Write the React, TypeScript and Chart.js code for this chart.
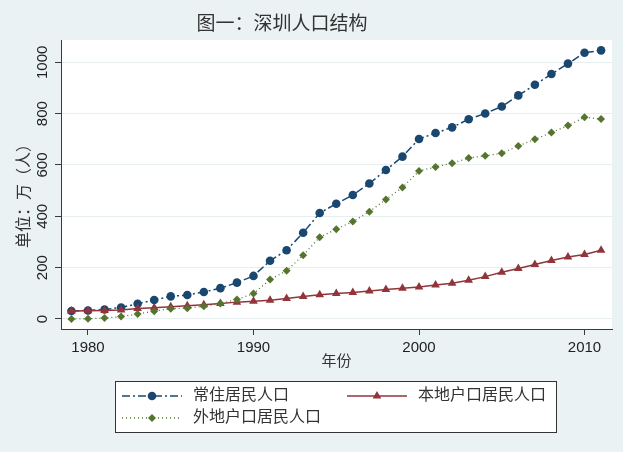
import React, { useEffect, useRef } from "react";
import { Chart, registerables } from "chart.js";

Chart.register(...registerables);

const years = [
  1979, 1980, 1981, 1982, 1983, 1984, 1985, 1986, 1987, 1988, 1989, 1990, 1991,
  1992, 1993, 1994, 1995, 1996, 1997, 1998, 1999, 2000, 2001, 2002, 2003, 2004,
  2005, 2006, 2007, 2008, 2009, 2010, 2011,
];
const residentPop = [
  31.4, 33.3, 36.7, 45.0, 59.5, 74.1, 88.2, 93.6, 105.4, 120.1, 141.6, 167.8,
  226.8, 268.0, 336.0, 412.7, 449.2, 482.9, 527.8, 580.3, 632.6, 701.2, 724.6,
  746.6, 778.3, 800.8, 827.8, 871.1, 912.4, 954.3, 995.0, 1037.2, 1046.7,
];
const localHukouPop = [
  31.3, 32.1, 33.3, 35.5, 40.5, 43.5, 47.9, 51.4, 55.6, 60.1, 65.7, 68.7, 73.2,
  80.2, 87.7, 94.0, 99.2, 103.4, 109.5, 114.6, 119.9, 124.9, 132.0, 139.5,
  150.9, 165.1, 181.9, 196.8, 212.4, 228.1, 241.5, 251.0, 267.9,
];
const nonLocalHukouPop = [
  0.2, 1.2, 3.4, 9.5, 19.0, 30.6, 40.3, 42.2, 49.8, 60.0, 75.9, 99.1, 153.5,
  187.8, 248.3, 318.7, 350.0, 379.5, 418.3, 465.7, 512.7, 576.3, 592.5, 607.2,
  627.3, 635.7, 645.8, 674.3, 700.0, 726.2, 753.6, 786.2, 778.8,
];
const xTickValues = [1980, 1990, 2000, 2010];
const yTickValues = [0, 200, 400, 600, 800, 1000];
const seriesNames = ["常住居民人口", "本地户口居民人口", "外地户口居民人口"];
const chartTitle = "图一：深圳人口结构";
const xAxisTitle = "年份";
const yAxisTitle = "单位：万（人）";

const BLUE = "#1a476f";
const MAROON = "#90353b";
const GREEN = "#55752f";
const BG = "#eaf2f3";
const AXIS = "#3a3a3a";
const FONT = "'Liberation Sans', 'Noto Sans CJK SC', sans-serif";

function drawMarker(ctx: CanvasRenderingContext2D, style: string, x: number, y: number, r: number, color: string) {
  ctx.save();
  ctx.fillStyle = color;
  ctx.beginPath();
  if (style === "circle") {
    ctx.arc(x, y, r, 0, Math.PI * 2);
  } else if (style === "triangle") {
    ctx.moveTo(x, y - r);
    ctx.lineTo(x + r * 0.866, y + r * 0.5);
    ctx.lineTo(x - r * 0.866, y + r * 0.5);
    ctx.closePath();
  } else {
    ctx.moveTo(x, y - r);
    ctx.lineTo(x + r, y);
    ctx.lineTo(x, y + r);
    ctx.lineTo(x - r, y);
    ctx.closePath();
  }
  ctx.fill();
  ctx.restore();
}

const decorPlugin = {
  id: "decor",
  beforeDraw(chart: any) {
    const { ctx, chartArea } = chart;
    ctx.save();
    ctx.fillStyle = BG;
    ctx.fillRect(0, 0, chart.width, chart.height);
    ctx.fillStyle = "#ffffff";
    ctx.fillRect(chartArea.left, chartArea.top, chartArea.right - chartArea.left, chartArea.bottom - chartArea.top);
    ctx.restore();
  },
  afterDraw(chart: any) {
    const { ctx } = chart;
    ctx.save();
    // title
    ctx.fillStyle = "#333333";
    ctx.font = `19px ${FONT}`;
    ctx.textAlign = "center";
    ctx.textBaseline = "middle";
    ctx.fillText(chartTitle, 282, 25);
    // y title
    ctx.save();
    ctx.translate(25, 192);
    ctx.rotate(-Math.PI / 2);
    ctx.font = `16px ${FONT}`;
    ctx.fillText(yAxisTitle, 0, 0);
    ctx.restore();
    // legend
    ctx.fillStyle = "#ffffff";
    ctx.fillRect(116, 382, 440, 50);
    ctx.strokeStyle = "#333333";
    ctx.lineWidth = 1;
    ctx.strokeRect(115.5, 381.5, 441, 51);
    const entries = [
      { x: 122, y: 396, i: 0 },
      { x: 347, y: 396, i: 1 },
      { x: 122, y: 418, i: 2 },
    ];
    entries.forEach((e) => {
      const ds = chart.data.datasets[e.i];
      ctx.save();
      ctx.strokeStyle = ds.borderColor;
      ctx.lineWidth = ds.borderWidth;
      ctx.setLineDash(ds.borderDash || []);
      ctx.beginPath();
      ctx.moveTo(e.x, e.y);
      ctx.lineTo(e.x + 60, e.y);
      ctx.stroke();
      ctx.restore();
      drawMarker(ctx, ds.pointStyle, e.x + 30, e.y, ds.pointRadius, ds.pointBackgroundColor);
      ctx.fillStyle = "#333333";
      ctx.font = `16px ${FONT}`;
      ctx.textAlign = "left";
      ctx.textBaseline = "middle";
      ctx.fillText(seriesNames[e.i], e.x + 71, e.y);
    });
    ctx.restore();
  },
};

export default function App() {
  const ref = useRef<HTMLCanvasElement>(null);
  useEffect(() => {
    if (!ref.current) return;
    const toXY = (vals: number[]) => years.map((yr, i) => ({ x: yr, y: vals[i] }));
    const chart = new Chart(ref.current, {
      type: "line",
      data: {
        datasets: [
          {
            label: seriesNames[0],
            data: toXY(residentPop),
            borderColor: BLUE,
            borderWidth: 1.5,
            borderDash: [8, 3, 2, 3],
            pointStyle: "circle",
            pointRadius: 4.3,
            pointBackgroundColor: BLUE,
            pointBorderWidth: 0,
            order: 2,
          },
          {
            label: seriesNames[1],
            data: toXY(localHukouPop),
            borderColor: MAROON,
            borderWidth: 1.5,
            pointStyle: "triangle",
            pointRadius: 5,
            pointBackgroundColor: MAROON,
            pointBorderWidth: 0,
            order: 1,
          },
          {
            label: seriesNames[2],
            data: toXY(nonLocalHukouPop),
            borderColor: GREEN,
            borderWidth: 1.3,
            borderDash: [1, 3],
            pointStyle: "rectRot",
            pointRadius: 4,
            pointBackgroundColor: GREEN,
            pointBorderWidth: 0,
            order: 0,
          },
        ] as any,
      },
      options: {
        animation: false,
        responsive: false,
        layout: { padding: { left: 0, top: 40, right: 11, bottom: 73 } },
        plugins: { legend: { display: false }, title: { display: false }, tooltip: { enabled: false } },
        scales: {
          x: {
            type: "linear",
            min: 1978.37,
            max: 2011.66,
            afterBuildTicks: (s: any) => {
              s.ticks = xTickValues.map((v) => ({ value: v }));
            },
            afterFit: (s: any) => {
              s.height = 50;
            },
            grid: { drawOnChartArea: false, drawTicks: true, tickLength: 6, tickColor: AXIS },
            border: { display: true, color: AXIS, width: 1 },
            ticks: {
              font: { family: FONT, size: 15 },
              color: "#222",
              padding: 4,
              maxRotation: 0,
              autoSkip: false,
              callback: (v: any) => String(v),
            },
            title: { display: true, text: xAxisTitle, font: { family: FONT, size: 15 }, color: "#333", padding: { top: 0, bottom: 8 } },
          },
          y: {
            type: "linear",
            min: -39,
            max: 1087,
            afterBuildTicks: (s: any) => {
              s.ticks = yTickValues.map((v) => ({ value: v }));
            },
            afterFit: (s: any) => {
              s.width = 61;
            },
            grid: { color: "#e6eef0", lineWidth: 1, drawTicks: true, tickLength: 6, tickColor: AXIS },
            border: { display: true, color: AXIS, width: 1 },
            ticks: {
              font: { family: FONT, size: 15 },
              color: "#222",
              minRotation: 90,
              maxRotation: 90,
              crossAlign: "center",
              padding: -5,
              autoSkip: false,
              callback: (v: any) => String(v),
            },
          },
        },
      } as any,
      plugins: [decorPlugin],
    });
    return () => chart.destroy();
  }, []);
  return (
    <div style={{ position: "fixed", left: 0, top: 0, width: 623, height: 452, background: BG }}>
      <canvas ref={ref} width={623} height={452} style={{ display: "block" }} />
    </div>
  );
}
